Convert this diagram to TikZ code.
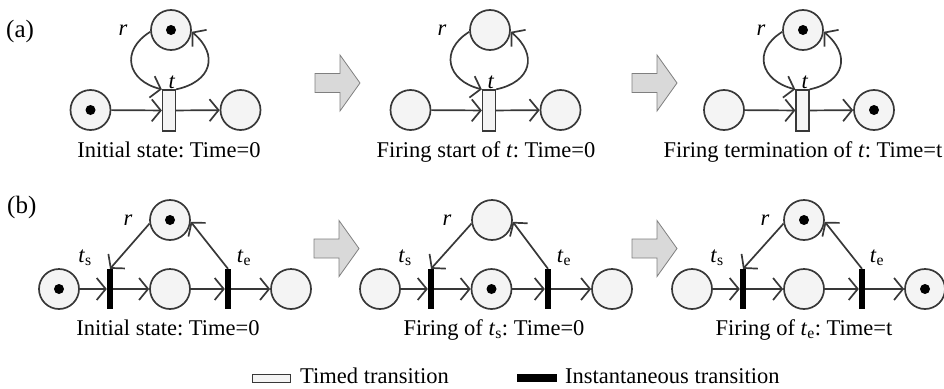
\documentclass[tikz,border=0pt]{standalone}
\usepackage{fontspec}
\setmainfont{Liberation Serif}
\usetikzlibrary{arrows.meta}
\frenchspacing
\definecolor{linec}{HTML}{383838}
\definecolor{placefill}{HTML}{F4F4F4}
\definecolor{arrfill}{HTML}{D9D9D9}
\definecolor{arredge}{HTML}{7F7F7F}
\begin{document}
\begin{tikzpicture}[x=1pt,y=1pt,
  every node/.style={font=\fontsize{22.5}{27}\selectfont, text=black},
  place/.style={circle, draw=linec, fill=placefill, line width=1.7pt, minimum size=40pt, inner sep=0pt},
  tokdot/.style={circle, fill=black, minimum size=10pt, inner sep=0pt},
  timedtr/.style={rectangle, draw=linec, fill=placefill, line width=1.3pt, minimum width=13pt, minimum height=41pt, inner sep=0pt},
  insttr/.style={rectangle, fill=black, minimum width=6pt, minimum height=40pt, inner sep=0pt},
  arr/.style={draw=linec, line width=1.7pt, -{Straight Barb[length=9pt,width=22pt]}},
  loopL/.style={arr, out=212, in=166, looseness=1.55},
  loopR/.style={arr, out=12, in=-40, looseness=1.55},
  blockarr/.style={draw=arredge, fill=arrfill, line width=0.8pt, line join=miter},
  lbl/.style={anchor=base, inner sep=0pt},
  panel/.style={anchor=base west, inner sep=0pt, font=\fontsize{25}{30}\selectfont},
  bigarrow/.pic={\draw[blockarr] (-45,9.5) -- (-20,9.5) -- (-20,28) -- (0,0) -- (-20,-28) -- (-20,-9.5) -- (-45,-9.5) -- cycle;}
]
\useasboundingbox (0,0) rectangle (944,-388);

% ---------------- row (a): one timed transition ----------------
\node[panel] (labA) at (6,-37) {(a)};

% state 1
\node[place] (a1in)  at (90.5,-110) {};
\node[place] (a1out) at (240.5,-110) {};
\node[place] (a1r)   at (171,-30) {};
\node[timedtr] (a1t) at (169,-110.5) {};
\node[tokdot] (a1k1) at (a1in) {};
\node[tokdot] (a1k2) at (a1r) {};
\draw[arr] (a1in) -- (a1t);
\draw[arr] (a1t) -- (a1out);
\draw[loopL] (a1r.185) to (a1t.north west);
\draw[loopR] (a1t.north east) to (a1r.-5);
\node[lbl] (a1rl) at (123,-35) {\textit{r}};
\node[lbl] (a1tl) at (172,-88) {\textit{t}};
\node[lbl] (a1c) at (169,-157) {Initial state: Time=0};

\pic at (360,-83) {bigarrow};

% state 2
\node[place] (a2in)  at (410.5,-110) {};
\node[place] (a2out) at (560.5,-110) {};
\node[place] (a2r)   at (490,-30) {};
\node[timedtr] (a2t) at (489,-110.5) {};
\draw[arr] (a2in) -- (a2t);
\draw[arr] (a2t) -- (a2out);
\draw[loopL] (a2r.185) to (a2t.north west);
\draw[loopR] (a2t.north east) to (a2r.-5);
\node[lbl] (a2rl) at (442,-35) {\textit{r}};
\node[lbl] (a2tl) at (491,-88) {\textit{t}};
\node[lbl] (a2c) at (486,-157) {Firing start of \textit{t}: Time=0};

\pic at (677,-83) {bigarrow};

% state 3
\node[place] (a3in)  at (724,-110) {};
\node[place] (a3out) at (874,-110) {};
\node[place] (a3r)   at (803,-30) {};
\node[timedtr] (a3t) at (802.5,-110.5) {};
\node[tokdot] (a3k1) at (a3out) {};
\node[tokdot] (a3k2) at (a3r) {};
\draw[arr] (a3in) -- (a3t);
\draw[arr] (a3t) -- (a3out);
\draw[loopL] (a3r.185) to (a3t.north west);
\draw[loopR] (a3t.north east) to (a3r.-5);
\node[lbl] (a3rl) at (761,-35) {\textit{r}};
\node[lbl] (a3tl) at (805,-88) {\textit{t}};
\node[lbl] (a3c) at (803,-157) {Firing termination of \textit{t}: Time=t};

% ---------------- row (b): start and end transitions ----------------
\node[panel] (labB) at (7,-213) {(b)};

% state 1
\node[place] (b1in)  at (59,-289) {};
\node[place] (b1mid) at (170,-289) {};
\node[place] (b1out) at (291,-289) {};
\node[place] (b1r)   at (170,-220) {};
\node[insttr] (b1ts) at (110,-289) {};
\node[insttr] (b1te) at (228,-289) {};
\node[tokdot] (b1k1) at (b1in) {};
\node[tokdot] (b1k2) at (b1r) {};
\draw[arr] (b1in) -- (b1ts);
\draw[arr] (b1ts) -- (b1mid);
\draw[arr] (b1mid) -- (b1te);
\draw[arr] (b1te) -- (b1out);
\draw[arr] (b1r.190) -- (b1ts.north);
\draw[arr] (b1te.north) -- (b1r.-5);
\node[lbl] (b1rl) at (128,-225) {\textit{r}};
\node[lbl] (b1sl) at (85,-262) {\textit{t}\textsubscript{s}};
\node[lbl] (b1el) at (244,-262) {\textit{t}\textsubscript{e}};
\node[lbl] (b1c) at (168,-335) {Initial state: Time=0};

\pic at (359,-248.5) {bigarrow};

% state 2
\node[place] (b2in)  at (380,-289) {};
\node[place] (b2mid) at (491.5,-289) {};
\node[place] (b2out) at (612,-289) {};
\node[place] (b2r)   at (492,-220) {};
\node[insttr] (b2ts) at (431,-289) {};
\node[insttr] (b2te) at (548,-289) {};
\node[tokdot] (b2k1) at (b2mid) {};
\draw[arr] (b2in) -- (b2ts);
\draw[arr] (b2ts) -- (b2mid);
\draw[arr] (b2mid) -- (b2te);
\draw[arr] (b2te) -- (b2out);
\draw[arr] (b2r.190) -- (b2ts.north);
\draw[arr] (b2te.north) -- (b2r.-5);
\node[lbl] (b2rl) at (447,-225) {\textit{r}};
\node[lbl] (b2sl) at (405,-262) {\textit{t}\textsubscript{s}};
\node[lbl] (b2el) at (564,-262) {\textit{t}\textsubscript{e}};
\node[lbl] (b2c) at (494,-335) {Firing of \textit{t}\textsubscript{s}: Time=0};

\pic at (677,-248.5) {bigarrow};

% state 3
\node[place] (b3in)  at (692,-289) {};
\node[place] (b3mid) at (804,-289) {};
\node[place] (b3out) at (925,-289) {};
\node[place] (b3r)   at (804,-220) {};
\node[insttr] (b3ts) at (743,-289) {};
\node[insttr] (b3te) at (862,-289) {};
\node[tokdot] (b3k1) at (b3out) {};
\node[tokdot] (b3k2) at (b3r) {};
\draw[arr] (b3in) -- (b3ts);
\draw[arr] (b3ts) -- (b3mid);
\draw[arr] (b3mid) -- (b3te);
\draw[arr] (b3te) -- (b3out);
\draw[arr] (b3r.190) -- (b3ts.north);
\draw[arr] (b3te.north) -- (b3r.-5);
\node[lbl] (b3rl) at (765,-225) {\textit{r}};
\node[lbl] (b3sl) at (717,-262) {\textit{t}\textsubscript{s}};
\node[lbl] (b3el) at (877,-262) {\textit{t}\textsubscript{e}};
\node[lbl] (b3c) at (804,-335) {Firing of \textit{t}\textsubscript{e}: Time=t};

% ---------------- legend ----------------
\node[rectangle, draw=linec, fill=placefill, line width=1pt, minimum width=38pt, minimum height=8pt, inner sep=0pt] (legT) at (271,-378) {};
\node[lbl, anchor=base west] (legTl) at (300,-383) {Timed transition};
\node[rectangle, fill=black, minimum width=40pt, minimum height=8pt, inner sep=0pt] (legI) at (537,-378) {};
\node[lbl, anchor=base west] (legIl) at (565,-383) {Instantaneous transition};
\end{tikzpicture}
\end{document}
